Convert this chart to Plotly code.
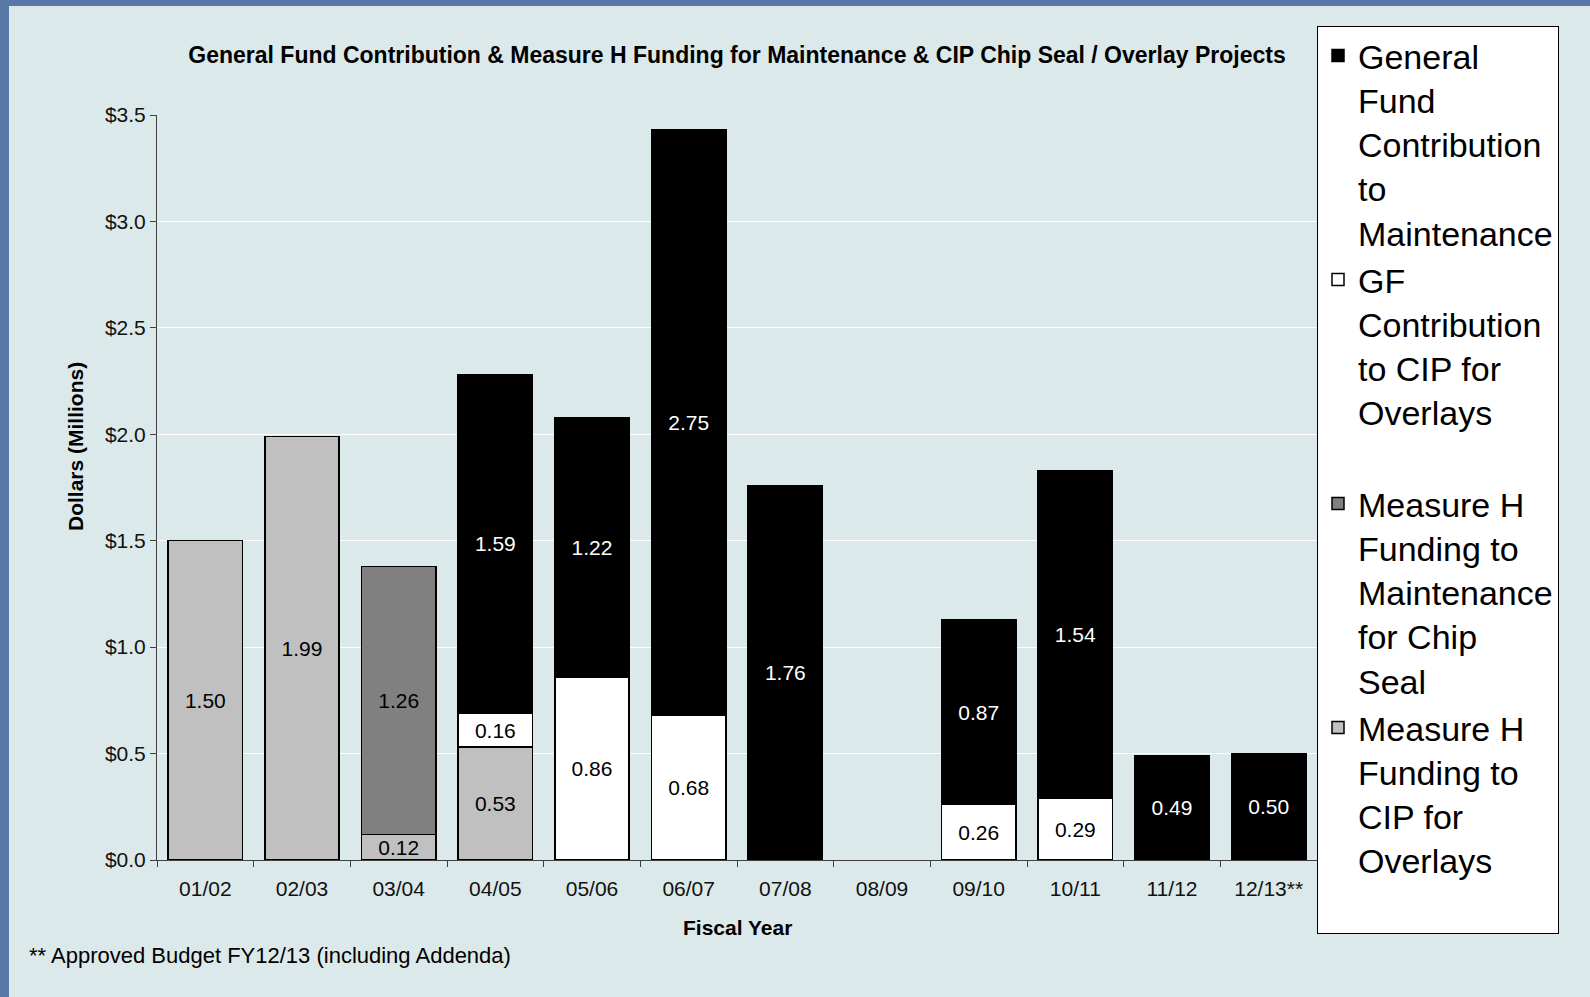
import plotly.graph_objects as go

# fiscal years on the x axis
years = ["01/02", "02/03", "03/04", "04/05", "05/06", "06/07",
         "07/08", "08/09", "09/10", "10/11", "11/12", "12/13**"]

# values in $ millions, None where the segment is absent
mh_cip = [1.50, 1.99, 0.12, 0.53, None, None, None, None, None, None, None, None]
mh_maint = [None, None, 1.26, None, None, None, None, None, None, None, None, None]
gf_cip = [None, None, None, 0.16, 0.86, 0.68, None, None, 0.26, 0.29, None, None]
gf_maint = [None, None, None, 1.59, 1.22, 2.75, 1.76, None, 0.87, 1.54, 0.49, 0.50]

W, H = 1590, 997
L, R, T, B = 157, 273, 115, 137
PW, PH = W - L - R, H - T - B
font_family = "Liberation Sans, Arial, sans-serif"
bg = "#dce9ea"
blue = "#5879a5"


def px_x(p):
    return (p - L) / PW


def px_y(p):
    return (H - B - p) / PH


fig = go.Figure()

series = [
    ("Measure H<br>Funding to<br>CIP for<br>Overlays<br> ", mh_cip, "#c0c0c0", "black"),
    ("Measure H<br>Funding to<br>Maintenance<br>for Chip<br>Seal", mh_maint, "#808080", "black"),
    ("GF<br>Contribution<br>to CIP for<br>Overlays<br> ", gf_cip, "#ffffff", "black"),
    ("General<br>Fund<br>Contribution<br>to<br>Maintenance", gf_maint, "#000000", "white"),
]

for name, vals, col, tcol in series:
    fig.add_trace(go.Bar(
        x=years, y=vals, name=name,
        marker=dict(color=col, line=dict(color="black", width=1.5)),
        texttemplate="%{y:.2f}", textposition="inside",
        insidetextanchor="middle", constraintext="none",
        textfont=dict(color=tcol, size=21, family=font_family),
    ))

fig.update_layout(
    barmode="stack", bargap=0.23,
    width=W, height=H,
    margin=dict(l=L, r=R, t=T, b=B, pad=0, autoexpand=False),
    paper_bgcolor=bg, plot_bgcolor=bg,
    font=dict(family=font_family, size=21, color="#111111"),
    title=dict(
        text="<b>General Fund Contribution & Measure H Funding for Maintenance & CIP Chip Seal / Overlay Projects</b>",
        x=0.5, xref="paper", xanchor="center",
        y=1 - 55 / H, yref="container", yanchor="middle",
        font=dict(size=23, color="black", family=font_family),
    ),
    legend=dict(
        xref="container", yref="container",
        x=1317 / W, y=1 - 26 / H, xanchor="left", yanchor="top",
        bgcolor="white", bordercolor="black", borderwidth=1,
        font=dict(size=34, color="black", family=font_family),
        traceorder="reversed", valign="top", tracegroupgap=0,
        maxheight=960,
    ),
    showlegend=True,
)

fig.update_yaxes(
    range=[0, 3.5], dtick=0.5, tickprefix="$", tickformat=".1f",
    showgrid=True, gridcolor="white", gridwidth=1,
    showline=True, linecolor="#404040", linewidth=1,
    ticks="outside", ticklen=6, tickcolor="#404040",
    zeroline=False, tickfont=dict(size=21, color="#111111"),
)
fig.update_xaxes(
    type="category", tickson="boundaries",
    showline=True, linecolor="#404040", linewidth=1,
    ticks="outside", ticklen=6, tickcolor="#404040",
    ticklabelstandoff=10,
    tickfont=dict(size=21, color="#111111"),
)

# blue frame strips at top and left
fig.add_shape(type="rect", xref="paper", yref="paper", layer="below",
              x0=px_x(0), x1=px_x(9), y0=px_y(H), y1=px_y(0),
              fillcolor=blue, line=dict(width=0))
fig.add_shape(type="rect", xref="paper", yref="paper", layer="below",
              x0=px_x(0), x1=px_x(W), y0=px_y(6), y1=px_y(0),
              fillcolor=blue, line=dict(width=0))

fig.add_annotation(text="<b>Dollars (Millions)</b>", textangle=-90,
                   xref="paper", yref="paper", x=px_x(75), y=px_y(447),
                   xanchor="center", yanchor="middle",
                   showarrow=False, font=dict(size=21, color="black"))
fig.add_annotation(text="<b>Fiscal Year</b>",
                   xref="paper", yref="paper", x=0.5, y=px_y(928),
                   xanchor="center", yanchor="middle",
                   showarrow=False, font=dict(size=21, color="black"))
fig.add_annotation(text="** Approved Budget FY12/13 (including Addenda)",
                   xref="paper", yref="paper", x=px_x(27), y=px_y(955),
                   xanchor="left", yanchor="middle", showarrow=False,
                   font=dict(size=22, color="black"))

fig.write_html("out.html", config={"displayModeBar": False},
               post_script="document.body.style.margin='0';document.body.style.overflow='hidden';")
